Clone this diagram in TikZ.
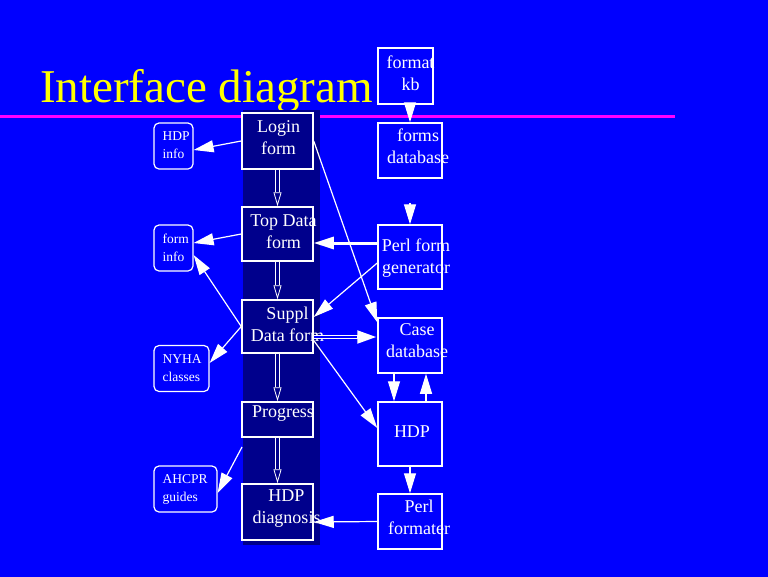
\documentclass[tikz,border=0pt]{standalone}
\usepackage{fontspec}
\setmainfont{Liberation Serif}
\usetikzlibrary{arrows.meta}
\definecolor{slideblue}{RGB}{0,0,255}
\definecolor{colnavy}{RGB}{0,0,140}
\definecolor{rulepink}{RGB}{255,0,255}
\definecolor{titleyellow}{RGB}{255,255,0}
\begin{document}
\begin{tikzpicture}[
        x=1pt, y=-1pt, >={Triangle[length=20pt,width=12pt]},
        formbox/.style={draw=white, fill=colnavy, line width=1.5pt, minimum width=71pt, inner sep=0pt},
        storebox/.style={draw=white, line width=1.5pt, minimum width=64pt, inner sep=0pt},
        infobox/.style={draw=white, rounded corners=5pt, line width=1.2pt, minimum height=46pt, inner sep=0pt},
        btxt/.style={text=white, font=\fontsize{18}{22}\selectfont, align=center, inner sep=0pt},
        itxt/.style={text=white, font=\fontsize{13.5}{18}\selectfont, align=left, inner sep=0pt, anchor=west, xshift=9pt},
        linkarrow/.style={draw=white, line width=1.2pt, ->},
        twinarrow/.style={draw=white, line width=4.5pt, ->, postaction={draw=slideblue, line width=2.3pt, -, shorten >=20pt}},
        flowarrow/.style={draw=white, double=colnavy, double distance=2.5pt, line width=0.8pt, -{Triangle[open,length=14pt,width=8pt]}}
    ]
        \useasboundingbox (0,0) rectangle (768,576);
        \fill[slideblue] (-2,-2) rectangle (770,578);
        \draw[rulepink, line width=3pt] (0,116) -- (675,116);
        \node[text=titleyellow, font=\fontsize{47}{56}\selectfont, anchor=base west, inner sep=0pt] (title) at (40,102) {Interface diagram};
        \fill[colnavy] (243,110) rectangle (320,545);
        % forms column
        \node[formbox, minimum height=56pt, label={[btxt,xshift=1pt,yshift=3pt]center:Login\\form}] (login) at (277.5,141) {};
        \node[formbox, minimum height=54pt, label={[btxt,xshift=6pt,yshift=2.5pt]center:Top Data\\form}] (topdata) at (277.5,234) {};
        \node[formbox, minimum height=53pt, label={[btxt,xshift=10pt,yshift=2.5pt]center:Suppl\\Data form}] (suppl) at (277.5,326.5) {};
        \node[formbox, minimum height=35pt, label={[btxt,xshift=5.5pt,yshift=5.5pt]center:Progress}] (progress) at (277.5,419.5) {};
        \node[formbox, minimum height=56pt, label={[btxt,xshift=9pt,yshift=3.5pt]center:HDP\\diagnosis}] (hdpdiag) at (277.5,512) {};
        % stores
        \node[storebox, minimum width=55pt, minimum height=56pt, label={[btxt,xshift=5pt,yshift=3pt]center:format\\kb}] (fmt) at (405.5,76) {};
        \node[storebox, minimum height=55pt, label={[btxt,xshift=8pt,yshift=4pt]center:forms\\database}] (forms) at (410,150.5) {};
        \node[storebox, minimum height=64pt, label={[btxt,xshift=6pt,yshift=-1.5pt]center:Perl form\\generator}] (perl) at (410,257) {};
        \node[storebox, minimum height=55pt, label={[btxt,xshift=7pt,yshift=4.5pt]center:Case\\database}] (case) at (410,345.5) {};
        \node[storebox, minimum height=64pt, label={[btxt,xshift=2pt,yshift=2.5pt]center:HDP}] (hdp) at (410,434) {};
        \node[storebox, minimum height=55pt, label={[btxt,xshift=9pt,yshift=4pt]center:Perl\\formater}] (pfmt) at (410,521.5) {};
        % help boxes
        \node[infobox, minimum width=39pt, label={[itxt,yshift=1pt]west:HDP\\info}] (hdpinfo) at (173.5,146) {};
        \node[infobox, minimum width=39pt, label={[itxt]west:form\\info}] (forminfo) at (173.5,248) {};
        \node[infobox, minimum width=55pt, label={[itxt]west:NYHA\\classes}] (nyha) at (181.5,368.5) {};
        \node[infobox, minimum width=63pt, label={[itxt]west:AHCPR\\guides}] (ahcpr) at (185.5,489) {};
        \coordinate (gap) at (242,447);
        \draw[flowarrow] (login) -- (topdata);
        \draw[flowarrow] (topdata) -- (suppl);
        \draw[flowarrow] (suppl) -- (progress);
        \draw[flowarrow] (progress) -- (hdpdiag);
        \draw[linkarrow] (login.west) -- ([yshift=-4pt]hdpinfo.east);
        \draw[linkarrow] (topdata.west) -- ([yshift=5pt]forminfo.east);
        \draw[linkarrow] (suppl.west) -- ([yshift=-7pt]forminfo.east);
        \draw[linkarrow] (suppl.west) -- ([yshift=5.5pt]nyha.east);
        \draw[linkarrow] (gap) -- ([yshift=-4pt]ahcpr.east);
        \draw[linkarrow, line width=3pt] ([yshift=14pt]perl.west) -- ([yshift=-9pt]topdata.east);
        \draw[linkarrow] ([yshift=-6pt]perl.west) -- ([yshift=9.5pt]suppl.east);
        \draw[linkarrow] (login.east) -- ([yshift=-5pt]case.north west);
        \draw[twinarrow] ([yshift=-10.5pt]suppl.east) -- ([yshift=8.5pt]case.west);
        \draw[linkarrow] ([yshift=-14pt]suppl.east) -- ([yshift=6pt]hdp.west);
        \draw[linkarrow] (fmt.south -| forms.north) -- (forms.north);
        \draw[linkarrow, shorten <=24pt] (forms) -- (perl);
        \draw[linkarrow] ([xshift=-16pt]case.south) -- ([xshift=-16pt]hdp.north);
        \draw[linkarrow] ([xshift=16pt]hdp.north) -- ([xshift=16pt]case.south);
        \draw[linkarrow] (hdp) -- (pfmt);
        \draw[linkarrow] (pfmt.west) -- ([yshift=-10pt]hdpdiag.east);
    \end{tikzpicture}
\end{document}
